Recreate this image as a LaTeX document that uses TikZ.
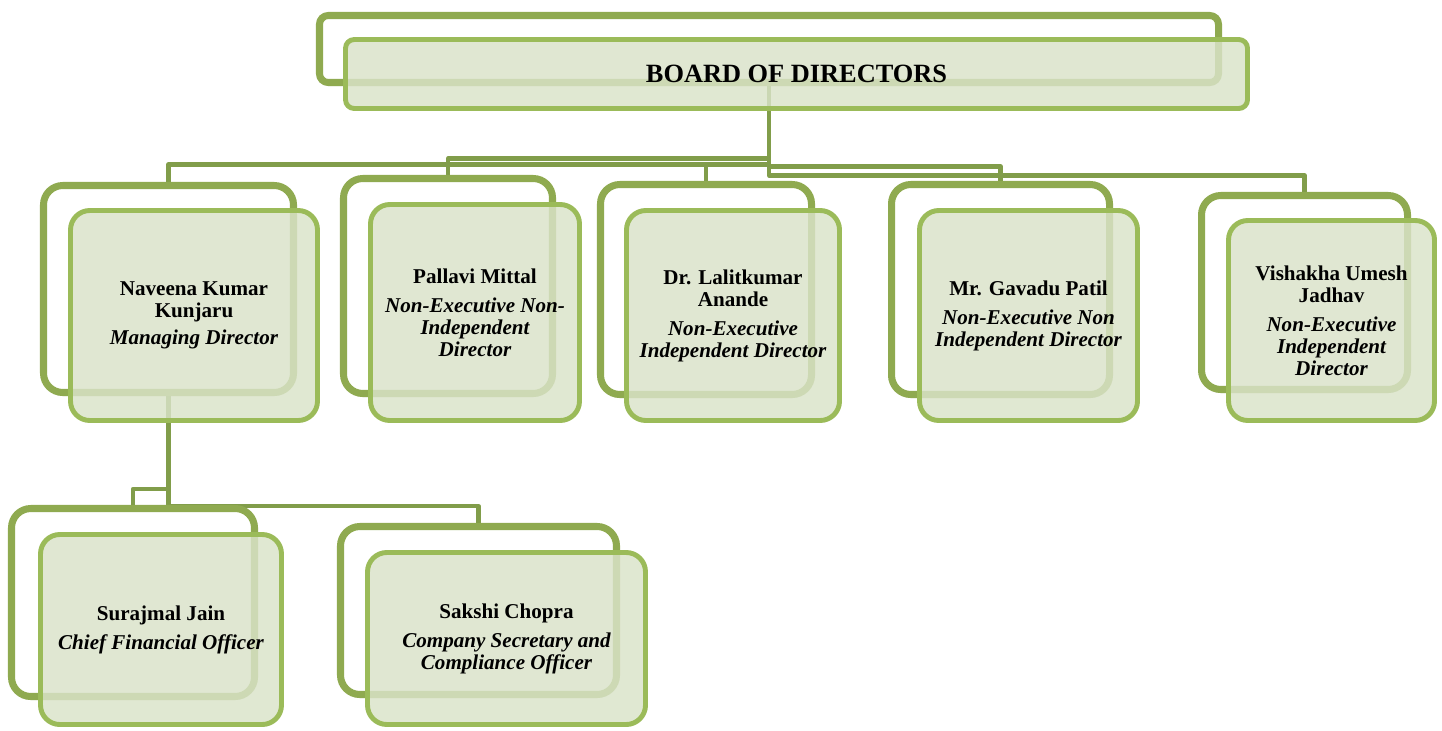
\documentclass[tikz,border=0pt]{standalone}
\usepackage{fontspec}
\setmainfont{Liberation Serif}
\usetikzlibrary{shadows,backgrounds}
\definecolor{backline}{HTML}{8FAA50}
\definecolor{frontline}{HTML}{9BBB59}
\definecolor{frontfill}{HTML}{DAE3C9}
\definecolor{linkline}{HTML}{819D4A}
\begin{document}
\begin{tikzpicture}[x=0.02cm,y=-0.02cm,
  backbox/.style={draw=backline,line width=4pt,fill=white,rounded corners=11pt,
    drop shadow={shadow xshift=0pt,shadow yshift=-2pt,opacity=0.2}},
  frontbox/.style={draw=frontline,line width=2.8pt,fill=frontfill,fill opacity=0.83,
    text opacity=1,rounded corners=11pt,align=center,
    font=\fontsize{12}{12.5}\selectfont\bfseries},
  link/.style={draw=linkline,line width=2.4pt,line join=round}]
\def\u{0.02cm}
\useasboundingbox (0,0) rectangle (1442,730);
% board
\node[backbox,rounded corners=5pt,minimum width=899*\u,minimum height=67*\u] (BDb) at (769,49) {};
\node[frontbox,rounded corners=5pt,minimum width=902*\u,minimum height=69*\u,
  font=\fontsize{15}{16}\selectfont\bfseries] (BD) at (796.5,74) {BOARD OF DIRECTORS};
% directors
\node[backbox,minimum width=250*\u,minimum height=207*\u] (NKb) at (168.5,289) {};
\node[frontbox,minimum width=247*\u,minimum height=210*\u] (NK) at (194,315.5)
  {Naveena Kumar\\Kunjaru\\[3pt]{\itshape Managing Director}};
\node[backbox,minimum width=209*\u,minimum height=215*\u] (PMb) at (448,286) {};
\node[frontbox,minimum width=209*\u,minimum height=216*\u] (PM) at (475,312.5)
  {Pallavi Mittal\\[4pt]{\itshape Non-Executive Non-}\\{\itshape Independent}\\{\itshape Director}};
\node[backbox,minimum width=211*\u,minimum height=210*\u] (LAb) at (706,289.5) {};
\node[frontbox,minimum width=213*\u,minimum height=210*\u] (LA) at (733,315.5)
  {Dr. Lalitkumar\\Anande\\[4pt]{\itshape Non-Executive}\\{\itshape Independent Director}};
\node[backbox,minimum width=218*\u,minimum height=210*\u] (GPb) at (1000.5,289.5) {};
\node[frontbox,minimum width=218*\u,minimum height=210*\u] (GP) at (1028.5,315.5)
  {Mr. Gavadu Patil\\[4pt]{\itshape Non-Executive Non}\\{\itshape Independent Director}};
\node[backbox,minimum width=206*\u,minimum height=194*\u] (VJb) at (1304.5,292.5) {};
\node[frontbox,minimum width=206*\u,minimum height=200*\u] (VJ) at (1331.5,320.5)
  {Vishakha Umesh\\Jadhav\\[4pt]{\itshape Non-Executive}\\{\itshape Independent}\\{\itshape Director}};
% officers
\node[backbox,minimum width=243*\u,minimum height=188*\u] (SJb) at (133,602.5) {};
\node[frontbox,minimum width=241*\u,minimum height=190*\u] (SJ) at (161,629.5)
  {Surajmal Jain\\[4pt]{\itshape Chief Financial Officer}};
\node[backbox,minimum width=276*\u,minimum height=168*\u] (SCb) at (478.5,610.5) {};
\node[frontbox,minimum width=278*\u,minimum height=172*\u] (SC) at (506.5,638.5)
  {Sakshi Chopra\\[4pt]{\itshape Company Secretary and}\\{\itshape Compliance Officer}};
% connectors
\begin{scope}[on background layer]
\draw[link] (BDb.south) -- ++(0,78.5) -| (NKb.north);
\draw[link] (BDb.south) -- ++(0,72.5) -| (PMb.north);
\draw[link] (BDb.south) -- ++(0,78.5) -| (LAb.north);
\draw[link] (BDb.south) -- ++(0,80.5) -| (GPb.north);
\draw[link] (BDb.south) -- ++(0,89.5) -| (VJb.north);
\draw[link] (NKb.south) -- ++(0,93) -| (SJb.north);
\draw[link] (NKb.south) -- ++(0,110) -| (SCb.north);
\end{scope}
\end{tikzpicture}
\end{document}
